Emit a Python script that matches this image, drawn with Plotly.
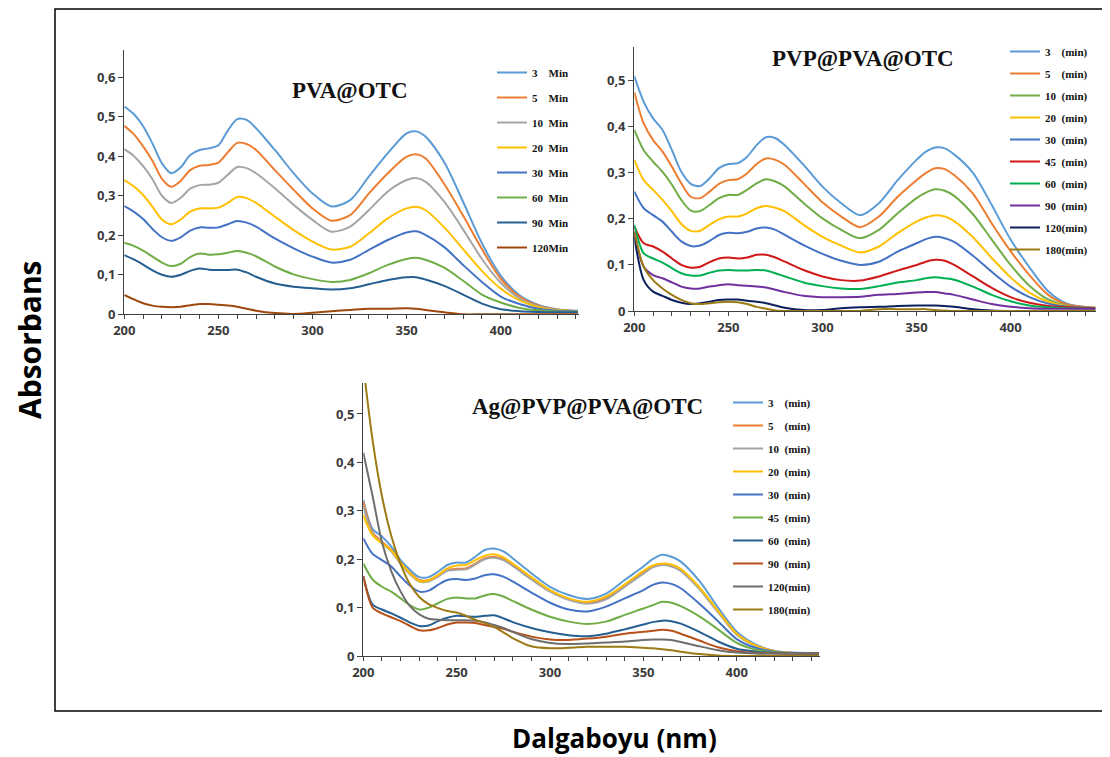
import plotly.graph_objects as go

W, H = 1110, 757
OFF = 8  # the page body margin shifts the figure by this many pixels

# ---------------- Panel 1: PVA@OTC ----------------
wl1 = [200, 205, 210, 215, 220, 225, 230, 235, 240, 245, 250, 255, 260, 265, 270, 280, 290,
       300, 310, 320, 330, 340, 350, 355, 360, 370, 380, 390, 400, 410, 420, 430, 441]
pva_3 = [.526, .507, .476, .432, .382, .357, .372, .403, .416, .420, .428, .465, .494, .492, .471, .416, .357,
         .306, .273, .289, .349, .408, .458, .463, .450, .385, .285, .180, .098, .048, .024, .013, .009]
pva_5 = [.477, .456, .425, .388, .343, .323, .338, .365, .376, .378, .384, .410, .434, .431, .416, .365, .315,
         .268, .237, .251, .306, .357, .399, .405, .395, .330, .250, .165, .090, .045, .022, .012, .008]
pva_10 = [.418, .401, .375, .342, .300, .282, .295, .318, .327, .328, .333, .353, .373, .370, .357, .319, .277,
          .239, .209, .222, .264, .311, .340, .345, .336, .285, .215, .140, .080, .040, .020, .011, .008]
pva_20 = [.340, .324, .302, .272, .240, .228, .240, .260, .268, .268, .270, .282, .297, .294, .282, .247, .213,
          .184, .164, .171, .205, .243, .268, .272, .264, .220, .165, .110, .065, .035, .018, .010, .007]
pva_30 = [.274, .260, .241, .216, .195, .186, .195, .212, .220, .219, .220, .228, .236, .232, .222, .192, .167,
          .146, .131, .138, .163, .188, .207, .210, .201, .170, .125, .082, .045, .026, .014, .009, .007]
pva_60 = [.181, .173, .161, .146, .131, .122, .128, .145, .154, .151, .152, .156, .160, .156, .147, .121, .101,
          .089, .082, .087, .104, .125, .140, .143, .138, .118, .085, .050, .030, .016, .010, .007, .006]
pva_90 = [.150, .139, .126, .111, .100, .095, .100, .110, .116, .113, .112, .112, .113, .106, .095, .078, .070,
          .066, .063, .066, .076, .087, .094, .094, .088, .072, .050, .027, .013, .008, .006, .005, .005]
pva_120 = [.049, .038, .028, .022, .019, .018, .019, .023, .026, .026, .024, .022, .019, .014, .009, .003, .001,
           .004, .008, .011, .014, .014, .015, .014, .011, .005, 0, 0, 0, 0, 0, 0, 0]
labels1 = ["3\u00a0\u00a0\u00a0\u00a0Min", "5\u00a0\u00a0\u00a0\u00a0Min", "10\u00a0\u00a0Min", "20\u00a0\u00a0Min",
           "30\u00a0\u00a0Min", "60\u00a0\u00a0Min", "90\u00a0\u00a0Min", "120Min"]
colors1 = ["#5B9BD5", "#ED7D31", "#A5A5A5", "#FFC000", "#4472C4", "#70AD47", "#255E91", "#9E480E"]

# ---------------- Panel 2: PVP@PVA@OTC ----------------
wl2 = [200, 205, 210, 215, 220, 225, 230, 235, 240, 245, 250, 255, 260, 265, 270, 275, 280, 290, 300,
       310, 320, 330, 340, 350, 355, 360, 365, 370, 380, 390, 400, 410, 420, 430, 445]
pvp_3 = [.510, .454, .418, .393, .349, .302, .276, .271, .288, .310, .319, .321, .335, .360, .377, .375, .360, .317, .270,
         .234, .208, .234, .284, .328, .346, .355, .353, .340, .300, .230, .155, .095, .043, .016, .007]
pvp_5 = [.475, .407, .371, .346, .313, .277, .248, .245, .259, .276, .284, .286, .299, .319, .331, .328, .317, .277, .236,
         .205, .182, .205, .248, .284, .300, .310, .308, .295, .255, .190, .130, .078, .035, .014, .007]
pvp_10 = [.393, .349, .324, .302, .274, .241, .218, .217, .230, .245, .252, .252, .263, .277, .286, .281, .270, .234, .201,
          .176, .158, .176, .212, .245, .257, .264, .261, .250, .210, .155, .100, .055, .025, .011, .006]
pvp_20 = [.328, .284, .263, .241, .216, .189, .174, .174, .187, .199, .205, .205, .212, .223, .228, .224, .216, .187, .161,
          .142, .127, .140, .169, .194, .203, .208, .205, .195, .160, .115, .073, .040, .020, .010, .006]
pvp_30 = [.259, .223, .208, .194, .172, .151, .141, .142, .152, .165, .170, .169, .172, .179, .181, .176, .165, .143, .124,
          .109, .100, .107, .129, .147, .156, .161, .158, .150, .120, .085, .053, .030, .016, .009, .006]
pvp_45 = [.183, .147, .140, .129, .114, .100, .094, .096, .106, .114, .116, .114, .116, .122, .122, .116, .107, .089, .075,
          .067, .066, .075, .088, .100, .107, .111, .109, .100, .075, .050, .030, .018, .011, .008, .006]
pvp_60 = [.187, .125, .114, .105, .093, .082, .077, .077, .083, .088, .089, .088, .088, .089, .088, .082, .075, .062, .054,
          .049, .048, .054, .062, .067, .071, .073, .071, .068, .053, .035, .021, .012, .008, .006, .005]
pvp_90 = [.172, .096, .078, .071, .062, .053, .049, .049, .053, .056, .058, .056, .055, .053, .051, .046, .041, .033, .030,
          .030, .031, .035, .037, .040, .041, .041, .038, .035, .025, .015, .009, .006, .005, .005, .005]
pvp_120 = [.161, .067, .042, .033, .024, .018, .015, .017, .020, .024, .025, .025, .022, .020, .017, .012, .007, .002, .002,
           .006, .008, .009, .011, .012, .012, .012, .011, .009, .004, .001, 0, 0, 0, 0, 0]
pvp_180 = [.172, .096, .067, .049, .035, .024, .017, .015, .017, .019, .020, .019, .015, .009, .005, .001, 0, 0, 0,
           0, 0, .004, .004, .004, .004, .002, .001, 0, 0, 0, 0, 0, 0, 0, 0]
labels2 = ["3\u00a0\u00a0\u00a0\u00a0(min)", "5\u00a0\u00a0\u00a0\u00a0(min)", "10\u00a0\u00a0(min)", "20\u00a0\u00a0(min)",
           "30\u00a0\u00a0(min)", "45\u00a0\u00a0(min)", "60\u00a0\u00a0(min)", "90\u00a0\u00a0(min)", "120(min)", "180(min)"]
colors2 = ["#5B9BD5", "#ED7D31", "#70AD47", "#FFC000", "#4472C4", "#D01818", "#00B050", "#7030A0", "#0A1F5C", "#9C7A14"]

# ---------------- Panel 3: Ag@PVP@PVA@OTC ----------------
wl3 = [200, 205, 210, 215, 220, 225, 230, 235, 240, 245, 250, 255, 260, 265, 270, 275, 280, 290, 300,
       310, 320, 330, 340, 350, 355, 360, 365, 370, 380, 390, 400, 410, 420, 430, 444]
ag_3 = [.322, .262, .247, .226, .198, .178, .163, .163, .174, .188, .193, .193, .205, .219, .222, .216, .202, .171, .143,
        .126, .118, .129, .157, .185, .200, .209, .205, .195, .155, .100, .050, .024, .011, .007, .006]
ag_5 = [.319, .255, .236, .219, .193, .172, .157, .157, .167, .178, .180, .181, .191, .202, .205, .200, .188, .160, .135,
        .118, .110, .119, .145, .172, .185, .190, .187, .178, .140, .092, .045, .022, .010, .006, .005]
ag_10 = [.310, .252, .233, .216, .190, .169, .154, .154, .164, .176, .178, .179, .189, .200, .203, .198, .186, .158, .133,
         .116, .108, .117, .143, .170, .183, .188, .185, .176, .138, .090, .044, .021, .010, .006, .005]
ag_20 = [.291, .249, .233, .218, .193, .171, .155, .156, .167, .181, .187, .188, .198, .207, .210, .204, .191, .163, .136,
         .119, .112, .123, .148, .176, .187, .191, .189, .180, .142, .093, .046, .022, .010, .006, .005]
ag_30 = [.243, .211, .198, .185, .164, .145, .133, .135, .147, .157, .159, .157, .160, .167, .169, .164, .154, .131, .110,
         .096, .092, .102, .119, .136, .147, .152, .149, .140, .108, .072, .035, .017, .009, .006, .005]
ag_45 = [.191, .158, .143, .133, .119, .105, .096, .100, .109, .118, .121, .119, .119, .125, .128, .123, .114, .096, .081,
         .071, .066, .071, .085, .098, .105, .112, .110, .103, .082, .055, .027, .013, .007, .005, .005]
ag_60 = [.165, .106, .096, .088, .079, .069, .062, .063, .072, .079, .083, .082, .081, .083, .084, .078, .070, .058, .049,
         .043, .041, .046, .055, .065, .070, .073, .072, .067, .050, .030, .015, .009, .006, .005, .005]
ag_90 = [.165, .100, .088, .080, .072, .062, .053, .053, .058, .065, .069, .069, .068, .064, .060, .056, .050, .040, .034,
         .033, .036, .040, .046, .050, .052, .054, .052, .046, .032, .018, .010, .006, .005, .005, .005]
ag_120 = [.420, .330, .235, .175, .133, .103, .086, .077, .075, .074, .074, .074, .073, .070, .064, .058, .050, .035, .027,
          .025, .026, .028, .030, .033, .034, .034, .033, .029, .020, .012, .007, .005, .005, .005, .005]
ag_180 = [.600, .445, .330, .248, .190, .148, .122, .107, .099, .093, .090, .083, .075, .068, .060, .049, .037, .020, .016,
          .017, .019, .019, .019, .017, .016, .014, .012, .009, .004, .001, 0, 0, 0, 0, 0]
labels3 = labels2
colors3 = ["#5B9BD5", "#ED7D31", "#A5A5A5", "#FFC000", "#4472C4", "#70AD47", "#255E91", "#B8501A", "#6E6E6E", "#9C7A14"]

titles = ["PVA@OTC", "PVP@PVA@OTC", "Ag@PVP@PVA@OTC"]
y_label = "Absorbans"
x_label = "Dalgaboyu (nm)"

panels = [
    (wl1, [pva_3, pva_5, pva_10, pva_20, pva_30, pva_60, pva_90, pva_120], labels1, colors1, "x", "y", "legend"),
    (wl2, [pvp_3, pvp_5, pvp_10, pvp_20, pvp_30, pvp_45, pvp_60, pvp_90, pvp_120, pvp_180], labels2, colors2, "x2", "y2", "legend2"),
    (wl3, [ag_3, ag_5, ag_10, ag_20, ag_30, ag_45, ag_60, ag_90, ag_120, ag_180], labels3, colors3, "x3", "y3", "legend3"),
]

fig = go.Figure()
for pi, (wl, series, labs, cols, xa, ya, lg) in enumerate(panels):
    for si, (vals, lab, col) in enumerate(zip(series, labs, cols)):
        fig.add_trace(go.Scatter(
            x=wl, y=vals, mode="lines", name=lab,
            line=dict(color=col, width=2, shape="spline", smoothing=0.8),
            xaxis=xa, yaxis=ya, legend=lg, legendgroup=f"p{pi}s{si}",
            hoverinfo="skip"))

def xd(px):
    return (px - OFF) / W

def yd(py):
    return 1 - (py - OFF) / H

tickfont = dict(family="Open Sans, Lato, sans-serif", size=13, color="#3a3a3a", weight="bold")
axcol = "#404040"

def xaxis(x0, x1, rng, anchor):
    return dict(domain=[xd(x0), xd(x1)], range=rng, anchor=anchor,
                showline=True, linecolor=axcol, linewidth=1.3,
                ticks="outside", ticklen=4, tickcolor=axcol, tickwidth=1,
                tick0=200, dtick=50,
                minor=dict(tick0=200, dtick=10, ticks="outside", ticklen=4, tickcolor=axcol, showgrid=False),
                showgrid=False, zeroline=False, tickfont=tickfont, fixedrange=True, automargin=False)

def yaxis(ytop_px, ybot_px, rng, anchor):
    return dict(domain=[yd(ybot_px), yd(ytop_px)], range=rng, anchor=anchor,
                showline=True, linecolor=axcol, linewidth=1.3,
                ticks="outside", ticklen=5, tickcolor=axcol, tickwidth=1,
                tick0=0, dtick=0.1, showgrid=False, zeroline=False,
                tickfont=tickfont, fixedrange=True, automargin=False)

# pixel geometry of the three panels
fig.update_layout(
    xaxis=xaxis(124.3, 579, [200, 441.6], "y"),
    yaxis=yaxis(50, 314.3, [0, 0.669], "x"),
    xaxis2=xaxis(634.3, 1096, [200, 445.4], "y2"),
    yaxis2=yaxis(47, 311, [0, 0.573], "x2"),
    xaxis3=xaxis(363.3, 820, [200, 444.6], "y3"),
    yaxis3=yaxis(383, 656, [0, 0.564], "x3"),
)

legfont = dict(family="Liberation Serif, Times New Roman, serif", size=11, color="#111111", weight="bold")

def legend(x_px, y_px, gap):
    return dict(x=xd(x_px), y=yd(y_px), xanchor="left", yanchor="top",
                bgcolor="rgba(0,0,0,0)", borderwidth=0, font=legfont,
                tracegroupgap=gap, itemclick=False, itemdoubleclick=False)

fig.update_layout(
    legend=legend(492, 58, 6),
    legend2=legend(1005, 37, 3),
    legend3=legend(728, 388, 4),
)

titlefont = dict(family="Liberation Serif, Times New Roman, serif", size=23, color="#111111", weight="bold")
annotations = [
    dict(text=titles[0], x=xd(349.5), y=yd(91), xref="paper", yref="paper", showarrow=False,
         xanchor="center", yanchor="middle", font=titlefont),
    dict(text=titles[1], x=xd(862.8), y=yd(59), xref="paper", yref="paper", showarrow=False,
         xanchor="center", yanchor="middle", font=titlefont),
    dict(text=titles[2], x=xd(587.5), y=yd(407), xref="paper", yref="paper", showarrow=False,
         xanchor="center", yanchor="middle", font=titlefont),
    dict(text=y_label, x=xd(29), y=yd(340), xref="paper", yref="paper", showarrow=False,
         xanchor="center", yanchor="middle", textangle=-90,
         font=dict(family="Open Sans, sans-serif", size=30, color="#000000", weight="bold")),
    dict(text=x_label, x=xd(614), y=yd(738), xref="paper", yref="paper", showarrow=False,
         xanchor="center", yanchor="middle",
         font=dict(family="Open Sans, sans-serif", size=26, color="#000000", weight="bold")),
]

fig.update_layout(
    width=W, height=H, autosize=False,
    margin=dict(l=0, r=0, t=0, b=0, pad=0, autoexpand=False),
    paper_bgcolor="white", plot_bgcolor="white",
    separators=",.",
    showlegend=True,
    annotations=annotations,
    shapes=[dict(type="rect", xref="paper", yref="paper",
                 x0=xd(55), x1=xd(1125), y0=yd(711), y1=yd(9),
                 line=dict(color="#000000", width=1.5), fillcolor="rgba(0,0,0,0)", layer="above")],
)

fig.write_html("out.html")
